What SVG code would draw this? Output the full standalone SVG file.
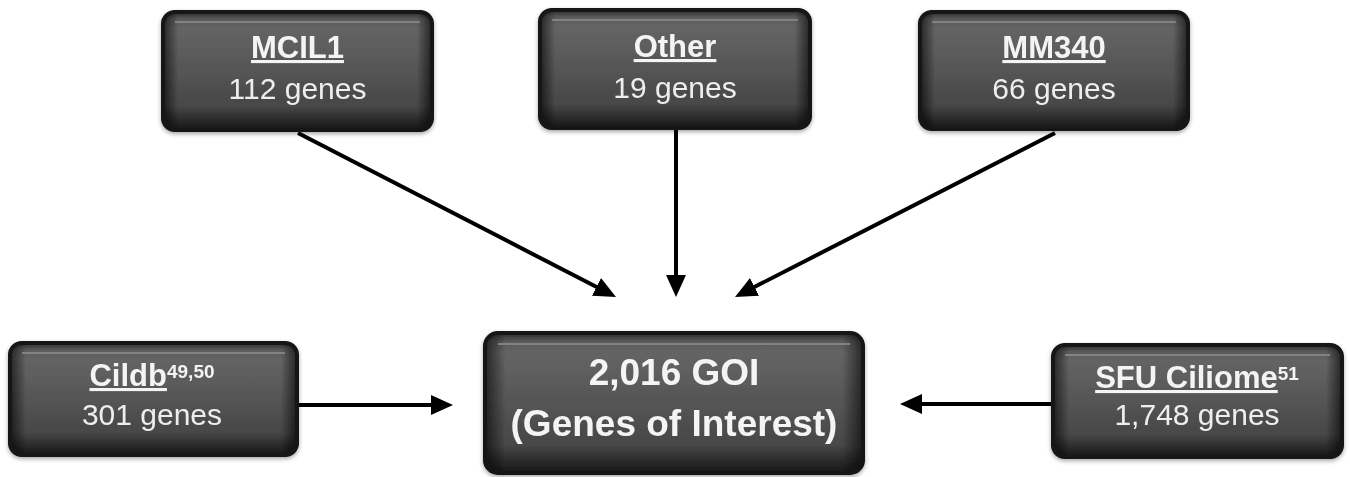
<svg xmlns="http://www.w3.org/2000/svg" width="1350" height="477" viewBox="0 0 1350 477">
  <style>
    .box { fill: url(#body); stroke: #121212; stroke-width: 4; }
    .side { fill: url(#sides); }
    .hl { stroke: #8c8c8c; stroke-width: 2; opacity: 0.8; }
    .title { font-family: "Liberation Sans", Arial, sans-serif; font-weight: bold; font-size: 31px; fill: #f4f4f4; text-anchor: middle; }
    .sub { font-family: "Liberation Sans", Arial, sans-serif; font-size: 30px; fill: #eeeeee; text-anchor: middle; }
    .big { font-family: "Liberation Sans", Arial, sans-serif; font-weight: bold; font-size: 37px; fill: #f4f4f4; text-anchor: middle; }
    .ul { text-decoration: underline; }
    .sup { font-size: 19px; }
    .arrow { stroke: #000; stroke-width: 4; fill: none; marker-end: url(#head); }
  </style>
  <defs>
    <linearGradient id="body" x1="0" y1="0" x2="0" y2="1">
      <stop offset="0" stop-color="#2a2a2a"/>
      <stop offset="0.06" stop-color="#5a5a5a"/>
      <stop offset="0.14" stop-color="#646464"/>
      <stop offset="0.5" stop-color="#555555"/>
      <stop offset="0.8" stop-color="#474747"/>
      <stop offset="0.9" stop-color="#2e2e2e"/>
      <stop offset="1" stop-color="#161616"/>
    </linearGradient>
    <linearGradient id="sides" x1="0" y1="0" x2="1" y2="0">
      <stop offset="0" stop-color="#000" stop-opacity="0.55"/>
      <stop offset="0.05" stop-color="#000" stop-opacity="0"/>
      <stop offset="0.95" stop-color="#000" stop-opacity="0"/>
      <stop offset="1" stop-color="#000" stop-opacity="0.55"/>
    </linearGradient>
    <filter id="shadow" x="-5%" y="-5%" width="110%" height="115%">
      <feDropShadow dx="0" dy="2" stdDeviation="2" flood-color="#000" flood-opacity="0.35"/>
    </filter>
    <marker id="head" markerUnits="userSpaceOnUse" markerWidth="24" markerHeight="22" refX="3" refY="10" orient="auto">
      <path d="M0,0 L22,10 L0,20 z" fill="#000"/>
    </marker>
  </defs>

  <g id="connectors">
    <line class="arrow" x1="298" y1="133" x2="599.1" y2="288.3"/>
    <line class="arrow" x1="676" y1="130" x2="676" y2="278"/>
    <line class="arrow" x1="1055" y1="133" x2="751.9" y2="288.3"/>
    <line class="arrow" x1="297" y1="405" x2="434" y2="405"/>
    <line class="arrow" x1="1053" y1="404" x2="919" y2="404"/>
  </g>

  <g id="node-mcil1" filter="url(#shadow)">
    <rect class="box" x="163" y="12" width="269" height="118" rx="12"/>
    <rect class="side" x="165" y="14" width="265" height="114" rx="10"/>
    <line class="hl" x1="175" y1="22" x2="420" y2="22"/>
    <text class="title" x="297.5" y="58"><tspan class="ul">MCIL1</tspan></text>
    <text class="sub" x="297.5" y="99">112 genes</text>
  </g>

  <g id="node-other" filter="url(#shadow)">
    <rect class="box" x="540" y="10" width="270" height="118" rx="12"/>
    <rect class="side" x="542" y="12" width="266" height="114" rx="10"/>
    <line class="hl" x1="552" y1="20" x2="798" y2="20"/>
    <text class="title" x="675" y="57"><tspan class="ul">Other</tspan></text>
    <text class="sub" x="675" y="98">19 genes</text>
  </g>

  <g id="node-mm340" filter="url(#shadow)">
    <rect class="box" x="920" y="12" width="268" height="117" rx="12"/>
    <rect class="side" x="922" y="14" width="264" height="113" rx="10"/>
    <line class="hl" x1="932" y1="22" x2="1176" y2="22"/>
    <text class="title" x="1054" y="58"><tspan class="ul">MM340</tspan></text>
    <text class="sub" x="1054" y="99">66 genes</text>
  </g>

  <g id="node-cildb" filter="url(#shadow)">
    <rect class="box" x="10" y="343" width="287" height="112" rx="12"/>
    <rect class="side" x="12" y="345" width="283" height="108" rx="10"/>
    <line class="hl" x1="22" y1="353" x2="285" y2="353"/>
    <text class="title" x="152" y="386"><tspan class="ul">Cildb</tspan><tspan class="sup" dy="-8">49,50</tspan></text>
    <text class="sub" x="152" y="425">301 genes</text>
  </g>

  <g id="node-goi" filter="url(#shadow)">
    <rect class="box" x="485" y="333" width="378" height="140" rx="13"/>
    <rect class="side" x="487" y="335" width="374" height="136" rx="11"/>
    <line class="hl" x1="498" y1="344" x2="850" y2="344"/>
    <text class="big" x="674" y="385">2,016 GOI</text>
    <text class="big" x="674" y="436">(Genes of Interest)</text>
  </g>

  <g id="node-sfu" filter="url(#shadow)">
    <rect class="box" x="1053" y="345" width="289" height="112" rx="12"/>
    <rect class="side" x="1055" y="347" width="285" height="108" rx="10"/>
    <line class="hl" x1="1065" y1="355" x2="1330" y2="355"/>
    <text class="title" x="1197" y="388"><tspan class="ul">SFU Ciliome</tspan><tspan class="sup" dy="-8">51</tspan></text>
    <text class="sub" x="1197" y="425">1,748 genes</text>
  </g>
</svg>
